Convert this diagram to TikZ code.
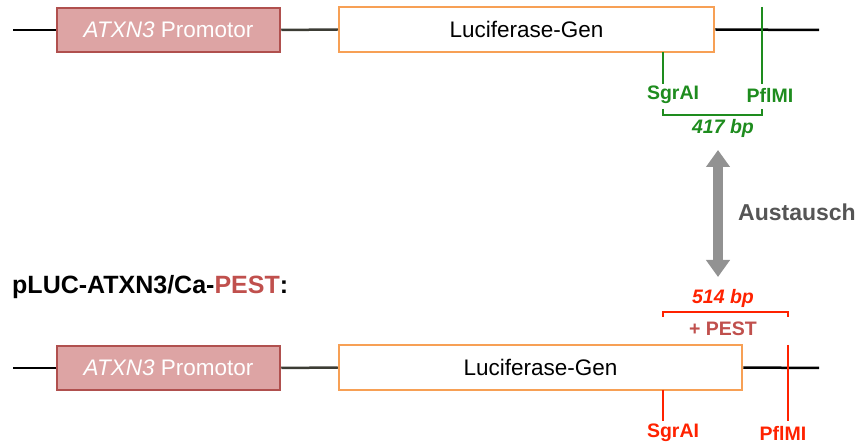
\documentclass[tikz,border=0pt]{standalone}
\usepackage{fontspec}
\setmainfont{Liberation Sans}
\usetikzlibrary{arrows.meta}
\definecolor{promofill}{HTML}{DDA4A4}
\definecolor{promodraw}{HTML}{B0504E}
\definecolor{lucdraw}{HTML}{F7A055}
\definecolor{sitegreen}{HTML}{1E8C1E}
\definecolor{sitered}{HTML}{FF2200}
\definecolor{pestred}{HTML}{C0504D}
\definecolor{midline}{HTML}{3C3C34}
\definecolor{arrowgray}{HTML}{929292}
\definecolor{austgray}{HTML}{555555}
\tikzset{
  promo/.style={draw=promodraw, fill=promofill, line width=2.5pt, minimum width=223pt, minimum height=44pt, inner sep=0pt, text=white, font=\fontsize{22.5}{26}\selectfont},
  lucbox/.style={draw=lucdraw, fill=white, line width=2.5pt, minimum height=45pt, inner sep=0pt, font=\fontsize{22.5}{26}\selectfont},
  backbone/.style={line width=2.5pt, black},
  midbone/.style={line width=2.5pt, midline},
  gsite/.style={line width=2.5pt, sitegreen},
  rsite/.style={line width=2.5pt, sitered},
  glabel/.style={text=sitegreen, font=\fontsize{19.5}{22}\selectfont\bfseries, inner sep=0pt},
  rlabel/.style={text=sitered, font=\fontsize{19.5}{22}\selectfont\bfseries, inner sep=0pt},
  bplabel/.style={font=\fontsize{19.5}{22}\selectfont\bfseries\itshape, inner sep=0pt},
}
\begin{document}
\begin{tikzpicture}[x=1pt, y=-1pt]
\useasboundingbox (0,0) rectangle (857,443);
% ---------- top construct ----------
\coordinate (a1) at (13,30);
\coordinate (e1) at (819,30);
\node[promo] (p1) at (168.5,30) {\textit{ATXN3} Promotor};
\node[lucbox, minimum width=375pt] (l1) at (526.5,29.5) {Luciferase-Gen};
\draw[backbone] (a1) -- (p1.west);
\draw[midbone] (p1.east) -- (l1.west);
\draw[backbone] (l1.east) -- (e1);
% sites
\coordinate (gs1) at (663,52);
\coordinate (gs2) at (663,84);
\coordinate (gp1) at (762,7);
\coordinate (gp2) at (762,84);
\draw[gsite] (gs1) -- (gs2);
\draw[gsite] (gp1) -- (gp2);
\node[glabel] (gsl) at (673,95) {SgrAI};
\node[glabel] (gpl) at (770,95) {PflMI};
\coordinate (gb1) at (663,109);
\coordinate (gb2) at (762,109);
\draw[gsite] (gb1) -- ++(0,6) -| (gb2);
\node[bplabel, text=sitegreen] (gbp) at (723,128) {417 bp};
% ---------- exchange arrow ----------
\coordinate (ar1) at (718,150);
\coordinate (ar2) at (718,277);
\draw[line width=9.5pt, arrowgray, {Triangle[width=23pt,length=17pt]}-{Triangle[width=23pt,length=17pt]}] (ar1) -- (ar2);
\node[text=austgray, font=\fontsize{23}{26}\selectfont\bfseries] (aus) at (797,212) {Austausch};
% ---------- title ----------
\node[anchor=west, inner sep=0pt, font=\fontsize{25}{28}\selectfont\bfseries] (title) at (12,287) {pLUC-ATXN3/Ca-\textcolor{pestred}{PEST}:};
% ---------- bottom construct ----------
\coordinate (a2) at (13,368);
\coordinate (e2) at (819,368);
\node[promo] (p2) at (168.5,368) {\textit{ATXN3} Promotor};
\node[lucbox, minimum width=403pt] (l2) at (540.5,367.5) {Luciferase-Gen};
\draw[backbone] (a2) -- (p2.west);
\draw[midbone] (p2.east) -- (l2.west);
\draw[backbone] (l2.east) -- (e2);
% sites
\coordinate (rs1) at (663,390);
\coordinate (rs2) at (663,421);
\coordinate (rp1) at (788,345);
\coordinate (rp2) at (788,421);
\draw[rsite] (rs1) -- (rs2);
\draw[rsite] (rp1) -- (rp2);
\node[rlabel] (rsl) at (673,433) {SgrAI};
\node[rlabel] (rpl) at (783,433) {PflMI};
\coordinate (rb1) at (663,317);
\coordinate (rb2) at (788,317);
\draw[rsite] (rb1) -- ++(0,-5) -| (rb2);
\node[bplabel, text=sitered] (rbp) at (723,298) {514 bp};
\node[text=pestred, font=\fontsize{19.5}{22}\selectfont\bfseries, inner sep=0pt] (pest) at (723,329) {+ PEST};
\end{tikzpicture}
\end{document}
